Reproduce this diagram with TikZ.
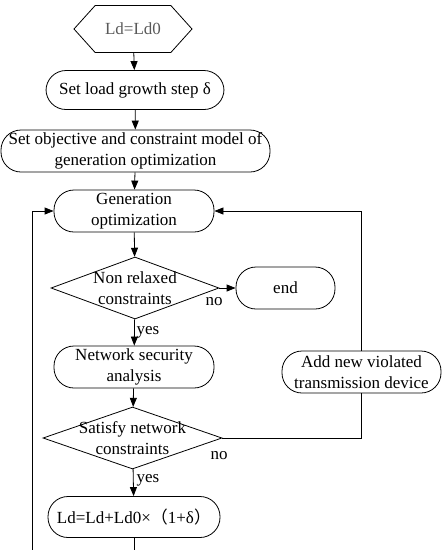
\documentclass[tikz,border=0pt]{standalone}
\usepackage{fontspec}
\setmainfont{Liberation Serif}
\newfontfamily\cjk{Noto Sans CJK SC}
\usetikzlibrary{shapes.geometric,shapes.symbols,arrows.meta}

% text of fixed-size decision nodes
\newcommand{\dtext}[1]{\makebox[0pt]{\smash{\raisebox{-6.5pt}{\begin{tabular}{@{}c@{}}#1\end{tabular}}}}}

\begin{document}
\begin{tikzpicture}[
   x=1pt, y=-1pt,
   font=\fontsize{17}{21}\selectfont,
   terminal/.style={rectangle, rounded corners=20pt, draw, line width=0.8pt, minimum height=42pt, align=center, inner sep=1pt},
   decision/.style={diamond, draw, line width=0.8pt, inner sep=0pt},
   hexa/.style={signal, signal to=west and east, draw, line width=0.8pt, minimum width=118pt, minimum height=47pt, signal pointer angle=96},
   arrow/.style={-{Triangle[length=9pt,width=7pt]}, line width=0.8pt},
   line/.style={line width=0.8pt},
   lbl/.style={inner sep=1pt}
]
\useasboundingbox (0,0) rectangle (448,550);

% Main column
\node[hexa, text=black!65] (init) at (133,29) {Ld=Ld0};
\node[terminal, minimum width=178pt, minimum height=39pt] (step) at (135,90) {Set load growth step δ};
\node[terminal, minimum width=269pt] (model) at (135.5,151) {Set objective and constraint model of\\generation optimization};
\node[terminal, minimum width=160pt] (genopt) at (134,211) {Generation\\optimization};
\node[decision, minimum width=168pt, minimum height=62pt] (relax) at (135,288) {\dtext{Non relaxed\\constraints}};
\node[terminal, minimum width=160pt] (secur) at (134,367) {Network security\\analysis};
\node[decision, minimum width=179pt, minimum height=62pt] (satis) at (132.5,438) {\dtext{Satisfy network\\constraints}};
\node[terminal, minimum width=172pt, minimum height=41pt] (update) at (134,517) {Ld=Ld+Ld0\texttimes{\cjk （}1+δ{\cjk ）}};

% Side boxes
\node[terminal, minimum width=99pt] (stop) at (285.5,288) {end};
\node[terminal, minimum width=159pt] (addv) at (361.5,372) {Add new violated\\transmission device};

% Loose ends at the bottom
\coordinate (loopL) at (32,550);
\coordinate (loopB) at (134,550);

% Arrows of the main column
\draw[arrow] (init) -- (step);
\draw[arrow] (step) -- (model);
\draw[arrow] (model) -- (genopt);
\draw[arrow] (genopt) -- (relax);
\draw[arrow] (relax) -- (secur);
\draw[arrow] (secur) -- (satis);
\draw[arrow] (satis) -- (update);
\draw[line] (update) -- (loopB);

% Branches
\draw[arrow] (relax.east) -- (stop.west);
\draw[line] (satis.east) -| (addv.south);
\draw[arrow] (addv.north) |- (genopt.east);
\draw[arrow] (loopL) |- (genopt.west);

% Labels
\node[lbl] (no1) at (214,302) {no};
\node[lbl] (yes1) at (148,332) {yes};
\node[lbl] (no2) at (219,456) {no};
\node[lbl] (yes2) at (148,480) {yes};

\end{tikzpicture}
\end{document}
